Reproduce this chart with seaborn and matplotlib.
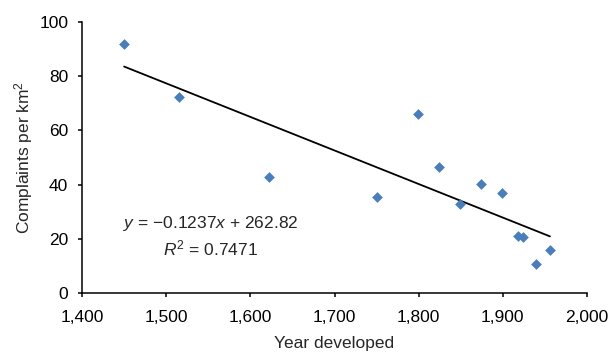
import numpy as np
import pandas as pd
import seaborn as sns
import matplotlib.pyplot as plt

# year each area was developed and complaints per km2
years = [1450, 1515, 1622, 1750, 1799, 1824, 1849, 1874, 1899, 1918, 1924, 1939, 1956]
complaints = [92.0, 72.4, 42.9, 35.4, 65.9, 46.6, 32.7, 40.3, 36.8, 20.9, 20.5, 10.6, 15.8]

eq_text = "$y$ = \u22120.1237$x$ + 262.82"
r2_text = "$R^2$ = 0.7471"

sns.set_style("ticks")
plt.rcParams['font.family'] = ['Liberation Sans', 'DejaVu Sans']
plt.rcParams['mathtext.fontset'] = 'custom'
plt.rcParams['mathtext.rm'] = 'Liberation Sans'
plt.rcParams['mathtext.it'] = 'Liberation Sans:italic'

df = pd.DataFrame({'year': years, 'complaints': complaints})

fig = plt.figure(figsize=(6.14, 3.54), dpi=100)
ax = fig.add_axes([0.1336, 0.1723, 0.8224, 0.7656])

sns.regplot(data=df, x='year', y='complaints', ax=ax, ci=None, marker='D',
            scatter_kws={'s': 30, 'color': '#4A7EBB', 'alpha': 1,
                         'linewidths': 0, 'zorder': 3},
            line_kws={'color': 'black', 'lw': 1.3, 'zorder': 2})

ax.set_xlim(1400, 2000)
ax.set_ylim(0, 100)
ax.set_xticks(range(1400, 2001, 100))
ax.set_yticks(range(0, 101, 20))
ax.set_xticklabels([f"{v:,}" for v in range(1400, 2001, 100)])
ax.tick_params(labelsize=12.5, length=3, width=1.1, colors='black')
ax.tick_params(axis='x', pad=9)
ax.tick_params(axis='y', pad=7)
for s in ['left', 'bottom']:
    ax.spines[s].set_color('black')
    ax.spines[s].set_linewidth(1.1)
sns.despine(ax=ax)

ax.set_xlabel("Year developed", fontsize=12.5, labelpad=8)
ax.set_ylabel("Complaints per km$^2$", fontsize=12.5, labelpad=3)

ax.text(1553, 24, eq_text, ha='center', va='baseline', fontsize=12.5)
ax.text(1553, 14, r2_text, ha='center', va='baseline', fontsize=12.5)

fig.savefig("out.png", dpi=100)
